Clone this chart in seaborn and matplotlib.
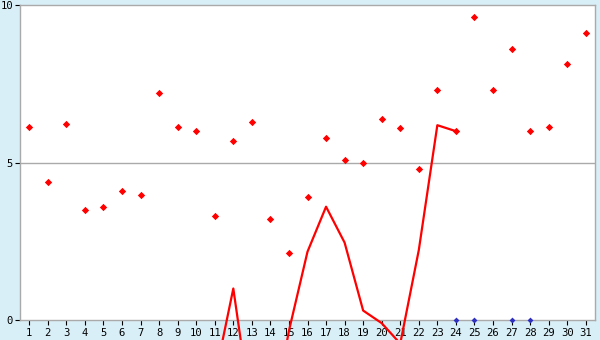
import numpy as np
import pandas as pd
import matplotlib
matplotlib.use("Agg")
import matplotlib.pyplot as plt
import seaborn as sns

days = list(range(1, 32))
points = [6.12, 4.40, 6.22, 3.51, 3.60, 4.11, 3.98, 7.20, 6.12, 6.00,
          3.30, 5.70, 6.30, 3.20, 2.12, 3.90, 5.79, 5.09, 5.00, 6.39,
          6.11, 4.81, 7.30, 6.00, 9.62, 7.30, 8.60, 6.00, 6.12, 8.12, 9.11]
line_days = list(range(11, 25))
line_vals = [-1.85, 1.00, -3.10, -3.50, -0.34, 2.17, 3.60, 2.46, 0.30, -0.10,
             -0.75, 2.22, 6.19, 6.00]
zero_days = [24, 25, 27, 28]
zero_vals = [0, 0, 0, 0]

bg = "#d9eff7"
sns.set_theme(style="white")
plt.rcParams['font.family'] = ['DejaVu Sans Mono', 'DejaVu Sans']

fig = plt.figure(figsize=(6, 3.4), dpi=100, facecolor=bg)
ax = fig.add_axes([20/600, 1-320/340, 575/600, (320-5.3)/340])
ax.set_facecolor("white")

ax.axhline(5, color="#aaaaaa", lw=1, zorder=1)

df_line = pd.DataFrame({"day": line_days, "val": line_vals})
sns.lineplot(data=df_line, x="day", y="val", ax=ax, color="#ff0000",
             lw=1.6, clip_on=False, zorder=3)

df_pts = pd.DataFrame({"day": days, "val": points})
sns.scatterplot(data=df_pts, x="day", y="val", ax=ax, color="#ff0000",
                marker="D", s=14, linewidth=0, zorder=4)

df_zero = pd.DataFrame({"day": zero_days, "val": zero_vals})
sns.scatterplot(data=df_zero, x="day", y="val", ax=ax, color="#3030c0",
                marker="D", s=9, linewidth=0, clip_on=False, zorder=5)

ax.set_xlim(0.5, 31.5)
ax.set_ylim(0, 10)
ax.set_xticks(days)
ax.set_xticklabels([str(d) for d in days])
ax.set_yticks([0, 5, 10])
ax.set_yticklabels(["0", "5", "10"])
ax.set_xlabel("")
ax.set_ylabel("")
for s in ax.spines.values():
    s.set_color("#aaaaaa")
    s.set_linewidth(1)
    s.set_visible(True)
ax.tick_params(axis="both", which="both", length=3.5, width=0.8, color="black",
               labelsize=7.6, labelcolor="black", direction="out")
ax.tick_params(axis="x", bottom=True, pad=2.5)
ax.tick_params(axis="y", left=True, pad=1.5)

fig.savefig("out.png", dpi=100, facecolor=bg)
